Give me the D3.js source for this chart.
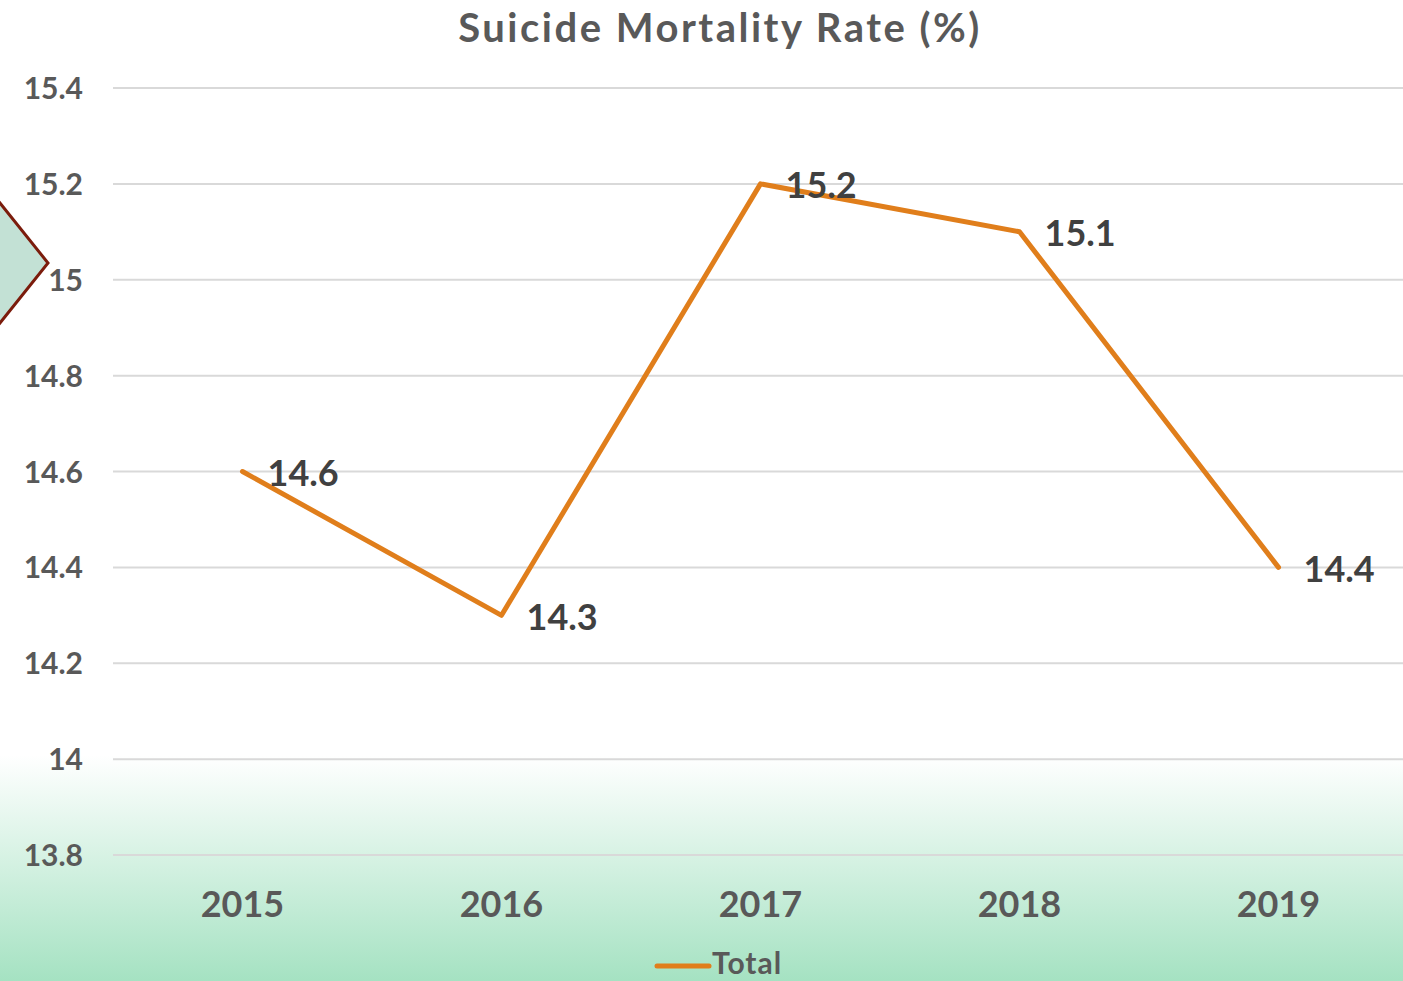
<!DOCTYPE html>
<html>
<head>
<meta charset="utf-8">
<script src="https://cdn.jsdelivr.net/npm/d3@7"></script>
<style>
  body { margin: 0; overflow: hidden; background: #fff; }
  text { font-family: "Century Gothic", "Lato", "Open Sans", sans-serif; }
</style>
</head>
<body>
<svg id="chart" width="1403" height="981"></svg>
<script>
// data
const years = ["2015", "2016", "2017", "2018", "2019"];
const totals = [14.6, 14.3, 15.2, 15.1, 14.4];
const yTicks = [13.8, 14, 14.2, 14.4, 14.6, 14.8, 15, 15.2, 15.4];

const W = 1403, H = 981;
const margin = {top: 88, right: -5, bottom: 126, left: 113};

const svg = d3.select("#chart");

// background gradient
const defs = svg.append("defs");
const grad = defs.append("linearGradient")
    .attr("id", "bg").attr("x1", 0).attr("y1", 0).attr("x2", 0).attr("y2", 1);
grad.append("stop").attr("offset", "0.77").attr("stop-color", "#ffffff");
grad.append("stop").attr("offset", "1").attr("stop-color", "#a5e2c2");
svg.append("rect").attr("width", W).attr("height", H).attr("fill", "url(#bg)");

// decorative diamond on the left edge
svg.append("path")
    .attr("d", "M-60,263 L0,203 L48,263 L0,323 Z")
    .attr("fill", "#c3e1d5")
    .attr("stroke", "#7b1c0c")
    .attr("stroke-width", 3);

let x = d3.scaleBand()
    .domain(years)
    .range([margin.left, W - margin.right]);

let y = d3.scaleLinear()
    .domain([13.8, 15.4])
    .range([H - margin.bottom, margin.top]);

// gridlines
svg.append("g").selectAll("line")
    .data(yTicks)
    .enter().append("line")
    .attr("x1", margin.left).attr("x2", W)
    .attr("y1", d => y(d)).attr("y2", d => y(d))
    .attr("stroke", "#d9d9d9")
    .attr("stroke-width", 2);

// y axis labels
let yAxis = d3.axisLeft(y).tickValues(yTicks).tickSize(0).tickPadding(0)
    .tickFormat(d => d3.format("")(+d.toFixed(1)));
let gy = svg.append("g")
    .attr("transform", "translate(" + 83 + ",0)")
    .call(yAxis);
gy.select(".domain").remove();
gy.selectAll("text")
    .attr("font-size", 30)
    .attr("font-weight", "bold")
    .attr("fill", "#595959")
    .attr("dy", "0.35em")
    .style("font-family", "'Century Gothic', 'Lato', sans-serif");

// x axis labels
let xAxis = d3.axisBottom(x).tickSize(0).tickPadding(0);
let gx = svg.append("g")
    .attr("transform", "translate(0," + 904 + ")")
    .call(xAxis);
gx.select(".domain").remove();
gx.selectAll("text")
    .attr("font-size", 36)
    .attr("font-weight", "bold")
    .attr("fill", "#595959")
    .attr("dy", "0.35em")
    .style("font-family", "'Century Gothic', 'Lato', sans-serif");

// the line
const pts = years.map((yr, i) => ({year: yr, value: totals[i]}));
const cx = d => x(d.year) + x.bandwidth() / 2;

svg.append("path")
    .datum(pts)
    .attr("fill", "none")
    .attr("stroke", "#e07e1b")
    .attr("stroke-width", 5)
    .attr("stroke-linejoin", "round")
    .attr("stroke-linecap", "round")
    .attr("d", d3.line().x(cx).y(d => y(d.value)));

// data labels
svg.append("g").selectAll("text")
    .data(pts)
    .enter().append("text")
    .attr("x", d => cx(d) + 25)
    .attr("y", d => y(d.value) + 2)
    .attr("dy", "0.35em")
    .attr("font-size", 36)
    .attr("font-weight", "bold")
    .attr("fill", "#404040")
    .text(d => d.value.toFixed(1));

// title
svg.append("text")
    .attr("x", 720).attr("y", 42)
    .attr("text-anchor", "middle")
    .attr("font-size", 40)
    .attr("font-weight", "bold")
    .attr("letter-spacing", 2.5)
    .attr("fill", "#595959")
    .text("Suicide Mortality Rate (%)");

// legend
let lg = svg.append("g").attr("transform", "translate(655,966)");
lg.append("line")
    .attr("x1", 2).attr("x2", 54).attr("y1", 0).attr("y2", 0)
    .attr("stroke", "#e07e1b").attr("stroke-width", 5)
    .attr("stroke-linecap", "round");
lg.append("text")
    .attr("x", 57).attr("y", 8)
    .attr("font-size", 30)
    .attr("letter-spacing", 1)
    .attr("font-weight", "bold")
    .attr("fill", "#595959")
    .text("Total");
</script>
</body>
</html>
